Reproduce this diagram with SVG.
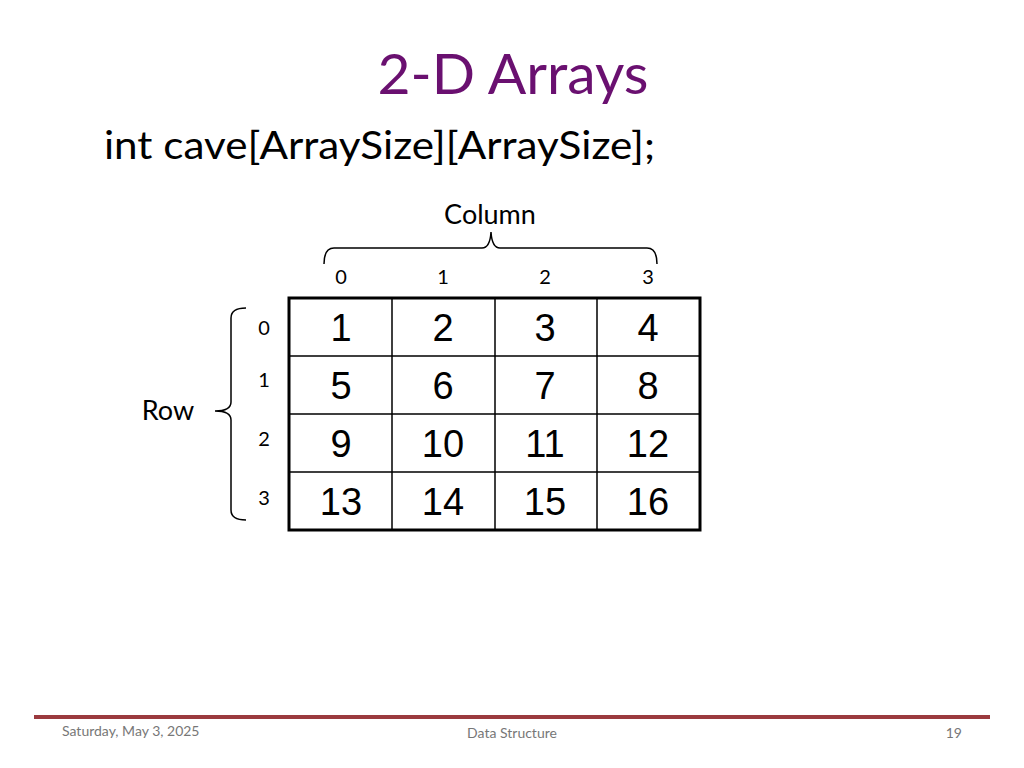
<svg xmlns="http://www.w3.org/2000/svg" width="1024" height="768" viewBox="0 0 1024 768">
<style>
.c{font-family:Lato,"Open Sans",sans-serif}
.n{font-family:"Liberation Sans",Arial,sans-serif;font-size:38px;text-anchor:middle;fill:#000}
.i{font-family:Lato,"Open Sans",sans-serif;font-size:20px;text-anchor:middle;fill:#000}
.g{stroke:#000;stroke-width:1.5;fill:none}
.f{font-family:Lato,"Open Sans",sans-serif;font-size:14px;fill:#777}
</style>
<rect width="1024" height="768" fill="#fff"/>
<text class="c" x="513" y="94" font-size="57" fill="#6a1070" text-anchor="middle">2-D Arrays</text>
<text class="c" x="104" y="159" font-size="38" fill="#000" textLength="551" lengthAdjust="spacingAndGlyphs">int cave[ArraySize][ArraySize];</text>
<text class="c" x="490" y="224" font-size="27" text-anchor="middle">Column</text>
<g id="connectors">
<path class="g" d="M324,264 Q324,248 334,248 L482,248 Q490,248 491,232 Q492,248 500,248 L647,248 Q657,248 657,264"/>
<path class="g" d="M246,308 Q231,308 231,318 L231,402 Q231,411 215,411 Q231,411 231,420 L231,510 Q231,520 246,520"/>
</g>
<text class="c" x="168" y="420" font-size="27" text-anchor="middle">Row</text>
<g id="colidx">
<text class="i" x="341" y="284">0</text><text class="i" x="443" y="284">1</text><text class="i" x="545" y="284">2</text><text class="i" x="648" y="284">3</text>
</g>
<g id="rowidx">
<text class="i" x="264" y="335">0</text><text class="i" x="264" y="387">1</text><text class="i" x="264" y="446">2</text><text class="i" x="264" y="505">3</text>
</g>
<g id="grid">
<rect x="289" y="298" width="411" height="232" fill="none" stroke="#000" stroke-width="3"/>
<path d="M392,298V530M495,298V530M597,298V530M289,356H700M289,414H700M289,472H700" stroke="#000" stroke-width="1.5"/>
<text class="n" x="341" y="341">1</text><text class="n" x="443" y="341">2</text><text class="n" x="545" y="341">3</text><text class="n" x="648" y="341">4</text>
<text class="n" x="341" y="399">5</text><text class="n" x="443" y="399">6</text><text class="n" x="545" y="399">7</text><text class="n" x="648" y="399">8</text>
<text class="n" x="341" y="457">9</text><text class="n" x="443" y="457">10</text><text class="n" x="545" y="457">11</text><text class="n" x="648" y="457">12</text>
<text class="n" x="341" y="515">13</text><text class="n" x="443" y="515">14</text><text class="n" x="545" y="515">15</text><text class="n" x="648" y="515">16</text>
</g>
<rect x="34" y="715" width="956" height="4" fill="#9b3a3e"/>
<text class="f" x="62" y="736">Saturday, May 3, 2025</text>
<text class="f" x="512" y="738" text-anchor="middle">Data Structure</text>
<text class="f" x="962" y="738" text-anchor="end">19</text>
</svg>
